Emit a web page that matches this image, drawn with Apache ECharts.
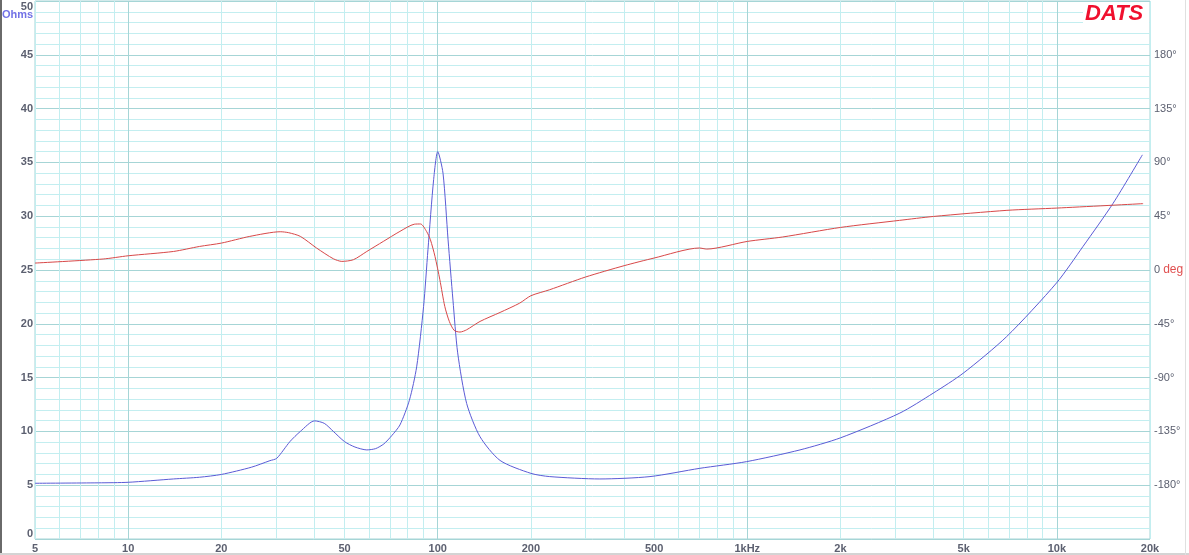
<!DOCTYPE html>
<html>
<head>
<meta charset="utf-8">
<script src="https://cdn.jsdelivr.net/npm/echarts@6/dist/echarts.min.js"></script>
<style>
html,body{margin:0;padding:0;background:#fff;}
#c{width:1189px;height:555px;}
</style>
</head>
<body>
<div id="c"></div>
<script>
// Impedance magnitude (Ohms) vs frequency (Hz)
const impFreq = [5, 8, 10, 14, 17, 20, 25, 28.7, 30.2, 33.3, 36, 40, 43, 46, 50, 54, 59, 63, 67, 71, 75.5, 81, 85.5, 90, 93, 97, 100, 104, 108, 112, 116, 124, 137, 159, 200, 230, 334, 485, 703, 995, 1480, 2000, 3110, 3985, 4980, 6880, 9980, 12160, 15200, 18900];
const impOhms = [5.18, 5.22, 5.27, 5.58, 5.74, 6.0, 6.67, 7.28, 7.5, 9.05, 10.0, 10.98, 10.75, 10.0, 9.05, 8.55, 8.28, 8.4, 8.84, 9.6, 10.6, 12.9, 16.0, 21.6, 26.9, 33.4, 36.0, 34.0, 27.8, 22.2, 17.3, 12.6, 9.5, 7.3, 6.1, 5.8, 5.58, 5.8, 6.57, 7.19, 8.28, 9.4, 11.7, 13.55, 15.4, 18.8, 23.8, 27.2, 31.2, 35.7];

// Impedance phase (degrees) vs frequency (Hz)
const phaseFreq = [5, 8.3, 10, 14, 17, 20, 24.7, 31, 33, 36, 40.6, 46, 49, 53.4, 59, 66.7, 75.5, 84, 88, 92, 94.7, 98, 101.6, 105.4, 109, 113, 118, 124, 137, 159, 184, 200, 230, 300, 400, 500, 700, 740, 1000, 1300, 2000, 3100, 4000, 6900, 10000, 19000];
const phaseDeg = [5.8, 9.2, 11.9, 15.5, 19.7, 22.5, 28.1, 32.0, 31.2, 28.1, 18.4, 9.4, 7.2, 8.6, 15.5, 23.9, 32.3, 38.3, 38.5, 32.3, 25.3, 11.3, -8.2, -30.5, -43, -50.5, -51.9, -50, -43, -35.5, -27.7, -21.5, -16.5, -5.9, 3.6, 10, 18.4, 17.5, 23.9, 27.6, 35.6, 41.5, 44.8, 49.9, 51.8, 55.5];

// Axis ticks
const xTickValues = [5, 10, 20, 50, 100, 200, 500, 1000, 2000, 5000, 10000, 20000];
const xTickLabels = ['5', '10', '20', '50', '100', '200', '500', '1kHz', '2k', '5k', '10k', '20k'];
const xGridValues = [5, 6, 7, 8, 9,
  10, 20, 30, 40, 50, 60, 70, 80, 90,
  100, 200, 300, 400, 500, 600, 700, 800, 900,
  1000, 2000, 3000, 4000, 5000, 6000, 7000, 8000, 9000,
  10000, 20000];

const MAJ = '#a6d5d6', MIN = '#c3eef0';
const LBL = '#5c6070';

const chart = echarts.init(document.getElementById('c'), null, {renderer: 'canvas'});
const impData = impFreq.map((f, i) => [f, impOhms[i]]);
const phaseData = phaseFreq.map((f, i) => [f, phaseDeg[i]]);

chart.setOption({
  animation: false,
  backgroundColor: '#ffffff',
  grid: {left: 35, right: 39, top: 1, bottom: 16, show: true, borderColor: MAJ, borderWidth: 1, backgroundColor: 'transparent'},
  xAxis: {
    type: 'log', logBase: 10, min: 5, max: 20000,
    axisLine: {show: false},
    axisTick: {show: false, customValues: xGridValues},
    axisLabel: {
      customValues: xTickValues,
      margin: 4,
      color: LBL, fontWeight: 'bold', fontSize: 11, fontFamily: 'Liberation Sans, Arial, sans-serif',
      formatter: function (v) {
        for (let i = 0; i < xTickValues.length; i++) {
          if (Math.abs(xTickValues[i] - v) / xTickValues[i] < 1e-6) return xTickLabels[i];
        }
        return '';
      }
    },
    splitLine: {show: true, lineStyle: {width: 1, color: [MIN, MIN, MIN, MIN, MIN, MAJ, MIN, MIN, MIN]}},
    minorTick: {show: false},
    minorSplitLine: {show: false}
  },
  yAxis: [{
    type: 'value', min: 0, max: 50, interval: 5, position: 'left',
    axisLine: {show: false}, axisTick: {show: false},
    axisLabel: {margin: 2, color: LBL, fontWeight: 'bold', fontSize: 11, fontFamily: 'Liberation Sans, Arial, sans-serif',
      verticalAlignMaxLabel: 'top', verticalAlignMinLabel: 'bottom'},
    splitLine: {show: true, lineStyle: {color: MAJ, width: 1}},
    minorTick: {show: false, splitNumber: 5},
    minorSplitLine: {show: true, lineStyle: {color: MIN, width: 1}}
  }, {
    type: 'value', min: -225, max: 225, interval: 45, position: 'right',
    axisLine: {show: false}, axisTick: {show: false},
    splitLine: {show: false},
    axisLabel: {
      margin: 4, color: LBL, fontSize: 11, fontFamily: 'Liberation Sans, Arial, sans-serif',
      formatter: function (v) {
        if (Math.abs(v) >= 225) return '';
        if (v === 0) return '{n|0} {d|deg}';
        return v + '°';
      },
      rich: {
        n: {color: LBL, fontSize: 11, fontFamily: 'Liberation Sans, Arial, sans-serif'},
        d: {color: '#e05050', fontSize: 12, fontFamily: 'Liberation Sans, Arial, sans-serif'}
      }
    }
  }],
  series: [{
    name: 'Ohms', type: 'line', xAxisIndex: 0, yAxisIndex: 0, data: impData,
    showSymbol: false, smooth: 0.25, z: 3,
    lineStyle: {color: '#5b5bd6', width: 1}
  }, {
    name: 'deg', type: 'line', xAxisIndex: 0, yAxisIndex: 1, data: phaseData,
    showSymbol: false, smooth: 0.25, z: 3,
    lineStyle: {color: '#d84848', width: 1}
  }],
  graphic: [
    {type: 'rect', left: 0, top: 0, shape: {width: 2, height: 555}, style: {fill: '#6a6a6a'}, z: 10},
    {type: 'rect', left: 0, top: 553, shape: {width: 1189, height: 2}, style: {fill: '#d4d4d4'}, z: 10},
    {type: 'rect', left: 1185, top: 0, shape: {width: 1, height: 555}, style: {fill: '#e0e0e0'}, z: 10},
    {type: 'text', left: 2, top: 9, style: {text: 'Ohms', fill: '#7272e6', font: 'bold 11px "Liberation Sans", Arial, sans-serif'}, z: 10},
    {type: 'rect', left: 1083, top: 3, shape: {width: 66, height: 21}, style: {fill: '#ffffff'}, z: 9},
    {type: 'text', left: 1085, top: 3, style: {text: 'DATS', fill: '#f0102e', font: 'italic bold 22px "Liberation Sans", Arial, sans-serif'}, z: 10}
  ]
});
</script>
</body>
</html>
